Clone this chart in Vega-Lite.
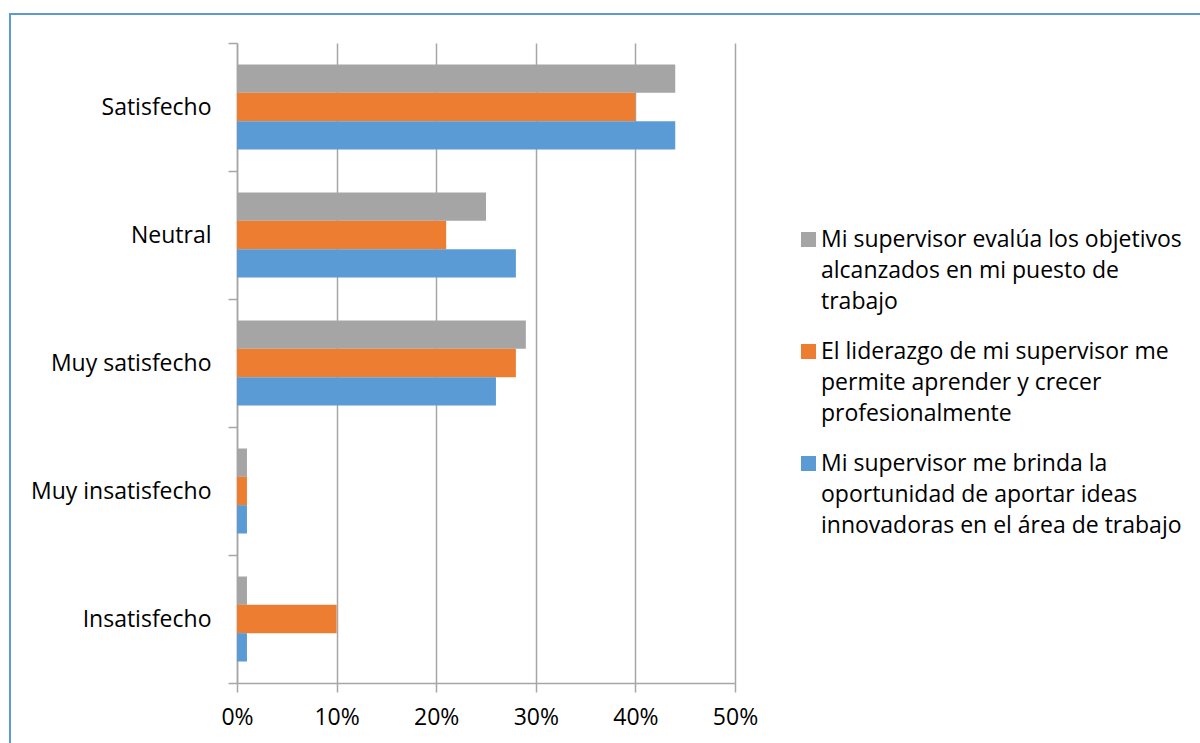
{
  "$schema": "https://vega.github.io/schema/vega-lite/v6.json",
  "width": 1192,
  "height": 731,
  "autosize": {"type": "none"},
  "padding": {"left": 10, "top": 14, "right": 0, "bottom": 0},
  "background": "white",
  "data": {
    "values": [
      {"categoria": "Satisfecho", "serie": "Mi supervisor evalúa los objetivos alcanzados en mi puesto de trabajo", "valor": 0.44},
      {"categoria": "Satisfecho", "serie": "El liderazgo de mi supervisor me permite aprender y crecer profesionalmente", "valor": 0.40},
      {"categoria": "Satisfecho", "serie": "Mi supervisor me brinda la oportunidad de aportar ideas innovadoras en el área de trabajo", "valor": 0.44},
      {"categoria": "Neutral", "serie": "Mi supervisor evalúa los objetivos alcanzados en mi puesto de trabajo", "valor": 0.25},
      {"categoria": "Neutral", "serie": "El liderazgo de mi supervisor me permite aprender y crecer profesionalmente", "valor": 0.21},
      {"categoria": "Neutral", "serie": "Mi supervisor me brinda la oportunidad de aportar ideas innovadoras en el área de trabajo", "valor": 0.28},
      {"categoria": "Muy satisfecho", "serie": "Mi supervisor evalúa los objetivos alcanzados en mi puesto de trabajo", "valor": 0.29},
      {"categoria": "Muy satisfecho", "serie": "El liderazgo de mi supervisor me permite aprender y crecer profesionalmente", "valor": 0.28},
      {"categoria": "Muy satisfecho", "serie": "Mi supervisor me brinda la oportunidad de aportar ideas innovadoras en el área de trabajo", "valor": 0.26},
      {"categoria": "Muy insatisfecho", "serie": "Mi supervisor evalúa los objetivos alcanzados en mi puesto de trabajo", "valor": 0.01},
      {"categoria": "Muy insatisfecho", "serie": "El liderazgo de mi supervisor me permite aprender y crecer profesionalmente", "valor": 0.01},
      {"categoria": "Muy insatisfecho", "serie": "Mi supervisor me brinda la oportunidad de aportar ideas innovadoras en el área de trabajo", "valor": 0.01},
      {"categoria": "Insatisfecho", "serie": "Mi supervisor evalúa los objetivos alcanzados en mi puesto de trabajo", "valor": 0.01},
      {"categoria": "Insatisfecho", "serie": "El liderazgo de mi supervisor me permite aprender y crecer profesionalmente", "valor": 0.10},
      {"categoria": "Insatisfecho", "serie": "Mi supervisor me brinda la oportunidad de aportar ideas innovadoras en el área de trabajo", "valor": 0.01}
    ]
  },
  "encoding": {
    "y": {
      "field": "categoria",
      "type": "nominal",
      "sort": ["Satisfecho", "Neutral", "Muy satisfecho", "Muy insatisfecho", "Insatisfecho"],
      "scale": {"range": [29, 669], "paddingInner": 0, "paddingOuter": 0},
      "axis": {
        "title": null,
        "orient": "left",
        "offset": -227,
        "grid": false,
        "domainColor": "#a6a6a6",
        "domainWidth": 1.5,
        "ticks": true,
        "tickBand": "extent",
        "tickSize": 9,
        "tickColor": "#a6a6a6",
        "tickWidth": 1.5,
        "labelPadding": 17,
        "labelFont": "Open Sans",
        "labelFontSize": 23,
        "labelColor": "#000000",
        "labelLimit": 400
      }
    },
    "yOffset": {
      "field": "serie",
      "type": "nominal",
      "sort": [
        "Mi supervisor evalúa los objetivos alcanzados en mi puesto de trabajo",
        "El liderazgo de mi supervisor me permite aprender y crecer profesionalmente",
        "Mi supervisor me brinda la oportunidad de aportar ideas innovadoras en el área de trabajo"
      ],
      "scale": {"paddingInner": 0, "paddingOuter": 0.759}
    }
  },
  "layer": [
    {
      "mark": {"type": "bar", "opacity": 0},
      "encoding": {
        "x": {
          "field": "valor",
          "type": "quantitative",
          "scale": {"domain": [0, 0.5], "range": [227, 725], "nice": false, "zero": true},
          "axis": {
            "title": null,
            "orient": "top",
            "values": [0, 0.1, 0.2, 0.3, 0.4, 0.5],
            "grid": true,
            "gridColor": "#a6a6a6",
            "gridWidth": 1.5,
            "domain": false,
            "ticks": false,
            "labels": false
          }
        }
      }
    },
    {
      "mark": {"type": "bar"},
      "encoding": {
        "x": {
          "field": "valor",
          "type": "quantitative",
          "scale": {"domain": [0, 0.5], "range": [227, 725], "nice": false, "zero": true},
          "axis": {
            "title": null,
            "orient": "bottom",
            "offset": -62,
            "values": [0, 0.1, 0.2, 0.3, 0.4, 0.5],
            "format": ".0%",
            "grid": false,
            "domainColor": "#a6a6a6",
            "domainWidth": 1.5,
            "tickSize": 9,
            "tickColor": "#a6a6a6",
            "tickWidth": 1.5,
            "labelPadding": 14,
            "labelFont": "Open Sans",
            "labelFontSize": 23,
            "labelColor": "#000000",
            "labelFlush": false,
            "labelOverlap": false
          }
        },
        "color": {
          "field": "serie",
          "type": "nominal",
          "scale": {
            "domain": [
              "Mi supervisor evalúa los objetivos alcanzados en mi puesto de trabajo",
              "El liderazgo de mi supervisor me permite aprender y crecer profesionalmente",
              "Mi supervisor me brinda la oportunidad de aportar ideas innovadoras en el área de trabajo"
            ],
            "range": ["#A5A5A5", "#ED7D31", "#5B9BD5"]
          },
          "legend": {
            "title": null,
            "orient": "none",
            "legendX": 787,
            "legendY": 214,
            "padding": 0,
            "symbolType": "square",
            "symbolSize": 225,
            "symbolStrokeWidth": 0,
            "labelOffset": 1,
            "labelFont": "Open Sans",
            "labelFontSize": 23,
            "labelColor": "#000000",
            "labelLimit": 600,
            "rowPadding": 26,
            "labelExpr": "indexof(datum.label, 'evalúa') >= 0 ? ['Mi supervisor evalúa los objetivos', 'alcanzados en mi puesto de', 'trabajo'] : indexof(datum.label, 'liderazgo') >= 0 ? ['El liderazgo de mi supervisor me', 'permite aprender y crecer', 'profesionalmente'] : ['Mi supervisor me brinda la', 'oportunidad de aportar ideas', 'innovadoras en el área de trabajo']"
          }
        }
      }
    }
  ],
  "resolve": {"axis": {"x": "independent"}},
  "config": {
    "font": "Open Sans",
    "view": {"stroke": "#5B9BD5", "strokeWidth": 2},
    "style": {"guide-label": {"lineHeight": 31}}
  }
}
